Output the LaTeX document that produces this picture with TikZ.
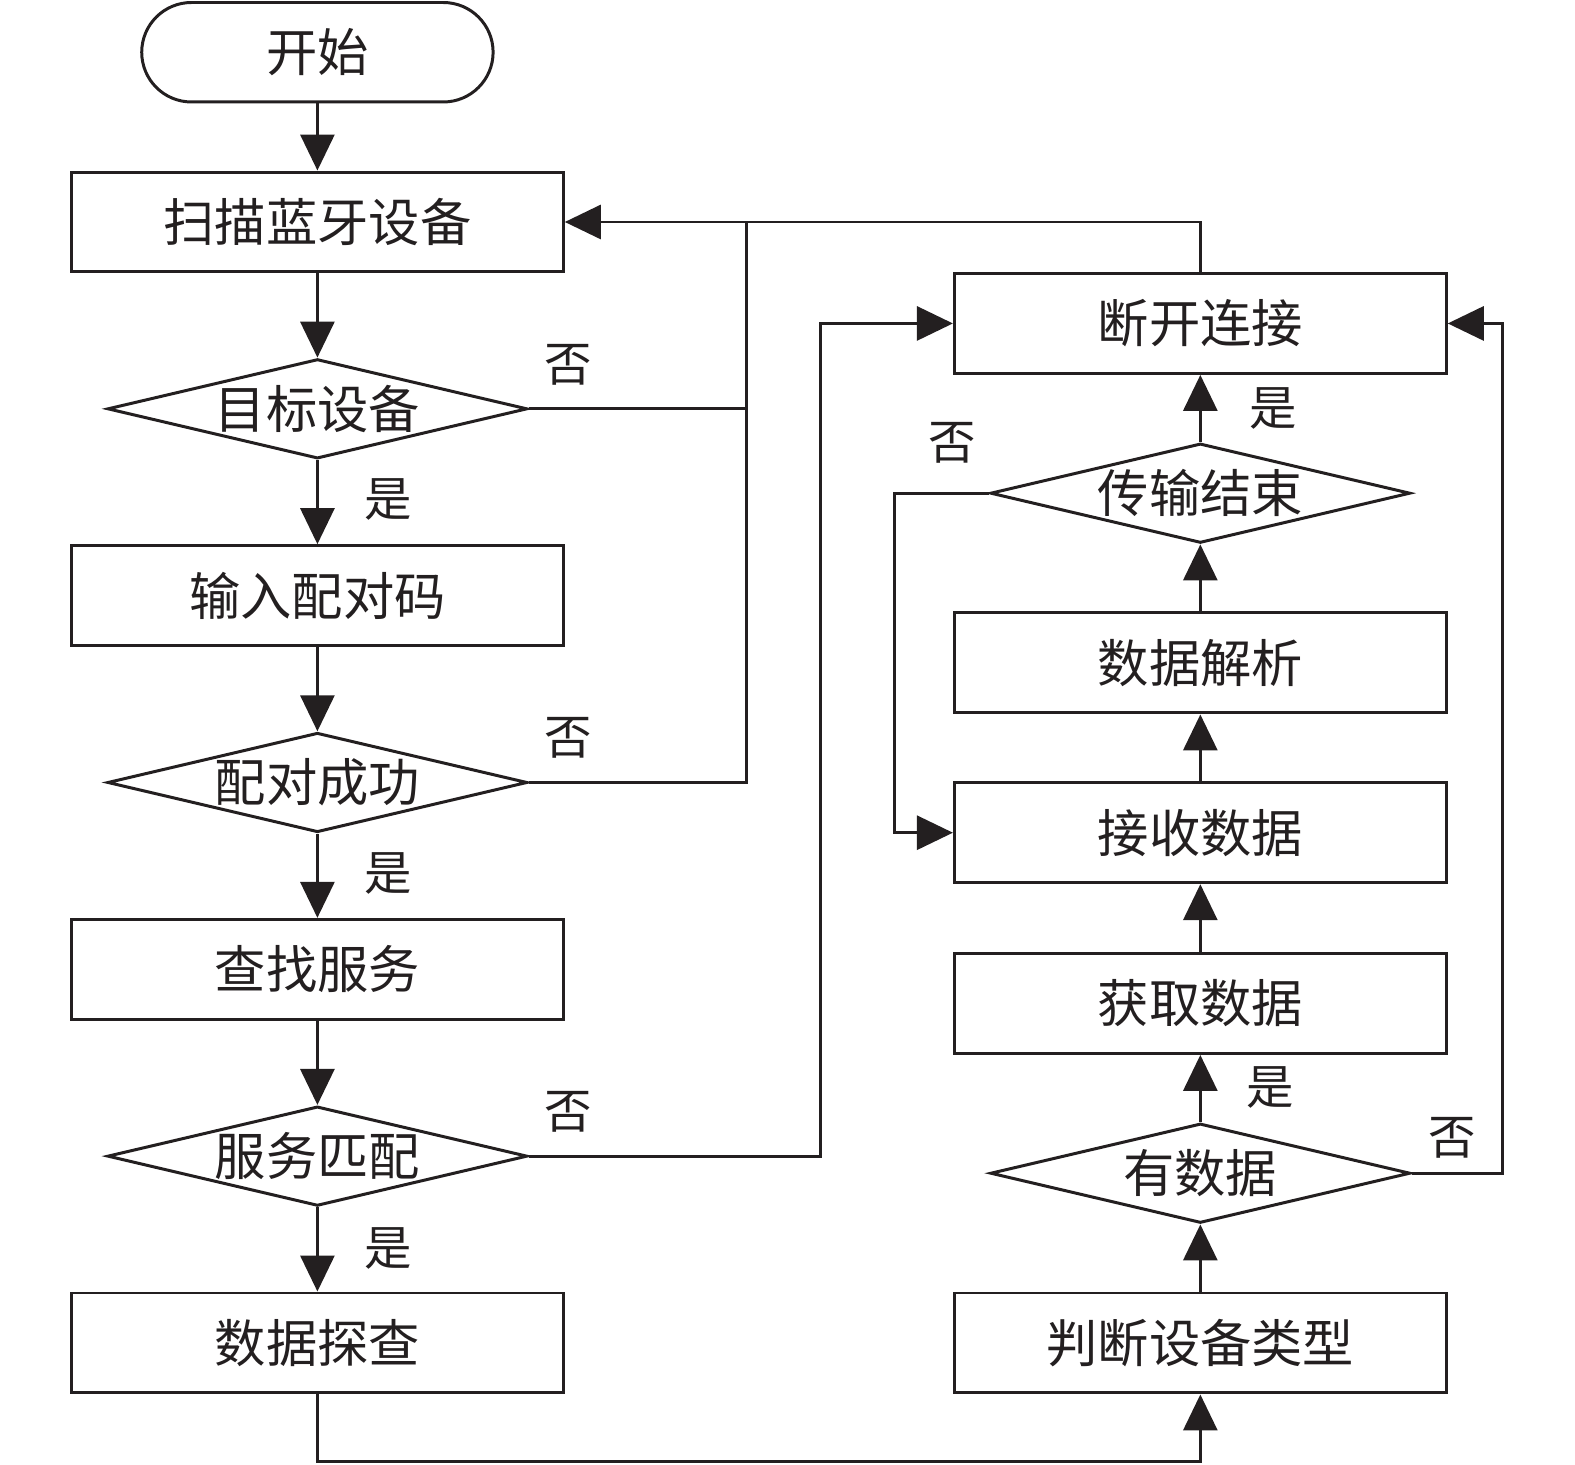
\documentclass[tikz,border=0pt]{standalone}
\usepackage{fontspec}
\setmainfont{Noto Sans CJK SC}
\usetikzlibrary{shapes.geometric,shapes.misc,arrows.meta}
\definecolor{ink}{HTML}{231F20}
\begin{document}
\begin{tikzpicture}[x=0.02009cm,y=-0.02009cm, color=ink, line width=1.7pt,
  txt/.style={font=\fontsize{29.2}{29.2}\selectfont, text=ink},
  box/.style={draw=ink, rectangle, minimum width=9.84cm, minimum height=2.0cm, inner sep=0pt, txt},
  term/.style={draw=ink, rounded rectangle, minimum width=7.03cm, minimum height=1.99cm, inner sep=0pt},
  dia/.style={draw=ink, diamond, shape aspect=4.2, minimum width=8.40cm, minimum height=1.99cm, inner sep=0pt},
  ctext/.style={label={[txt, inner sep=0pt]center:#1}},
  lbl/.style={font=\fontsize{27}{27}\selectfont, text=ink, inner sep=0pt},
  arr/.style={-{Triangle[length=0.72cm,width=0.68cm]}}
]
\path[use as bounding box] (0,0) rectangle (1568,1458);
% left column
\node[term, ctext=开始] (start) at (316,52) {};
\node[box] (b1) at (316,221) {扫描蓝牙设备};
\node[dia, ctext=目标设备] (d1) at (316,407) {};
\node[box] (b2) at (316,593) {输入配对码};
\node[dia, ctext=配对成功] (d2) at (316,779) {};
\node[box] (b3) at (316,965) {查找服务};
\node[dia, ctext=服务匹配] (d3) at (316,1151) {};
\node[box] (b4) at (316,1337) {数据探查};
% right column
\node[box] (r1) at (1195,322) {断开连接};
\node[dia, ctext=传输结束] (rd1) at (1195,491) {};
\node[box] (r2) at (1195,660) {数据解析};
\node[box] (r3) at (1195,829) {接收数据};
\node[box] (r4) at (1195,999) {获取数据};
\node[dia, ctext=有数据] (rd2) at (1195,1168) {};
\node[box] (r5) at (1195,1337) {判断设备类型};
% bend coordinates
\coordinate (j1) at (743,221);
\coordinate (j2) at (743,407);
\coordinate (k1) at (817,1151);
\coordinate (m1) at (891,491);
\coordinate (n1) at (1496,1168);
\coordinate (p1) at (316,1455);
% left flow
\draw[arr] (start) -- (b1);
\draw[arr] (b1) -- (d1);
\draw[arr] (d1) -- (b2);
\draw[arr] (b2) -- (d2);
\draw[arr] (d2) -- (b3);
\draw[arr] (b3) -- (d3);
\draw[arr] (d3) -- (b4);
% no branches
\draw[arr] (d1.east) -| (j1) -- (b1.east);
\draw (d2.east) -| (j2);
\draw (r1.north) |- (j1);
\draw[arr] (d3.east) -- (k1) |- (r1.west);
% bottom link
\draw[arr] (b4.south) -- (p1) -| (r5.south);
% right flow
\draw[arr] (r5) -- (rd2);
\draw[arr] (rd2) -- (r4);
\draw[arr] (r4) -- (r3);
\draw[arr] (r3) -- (r2);
\draw[arr] (r2) -- (rd1);
\draw[arr] (rd1) -- (r1);
\draw[arr] (rd1.west) -- (m1) |- (r3.west);
\draw[arr] (rd2.east) -- (n1) |- (r1.east);
% labels
\node[lbl] (n1l) at (566,363) {否};
\node[lbl] (n2l) at (566,735) {否};
\node[lbl] (n3l) at (566,1107) {否};
\node[lbl] (n4l) at (948,441) {否};
\node[lbl] (n5l) at (1446,1133) {否};
\node[lbl] (y1l) at (386,497) {是};
\node[lbl] (y2l) at (386,870) {是};
\node[lbl] (y3l) at (386,1243) {是};
\node[lbl] (y4l) at (1268,407) {是};
\node[lbl] (y5l) at (1265,1083) {是};
\end{tikzpicture}
\end{document}
